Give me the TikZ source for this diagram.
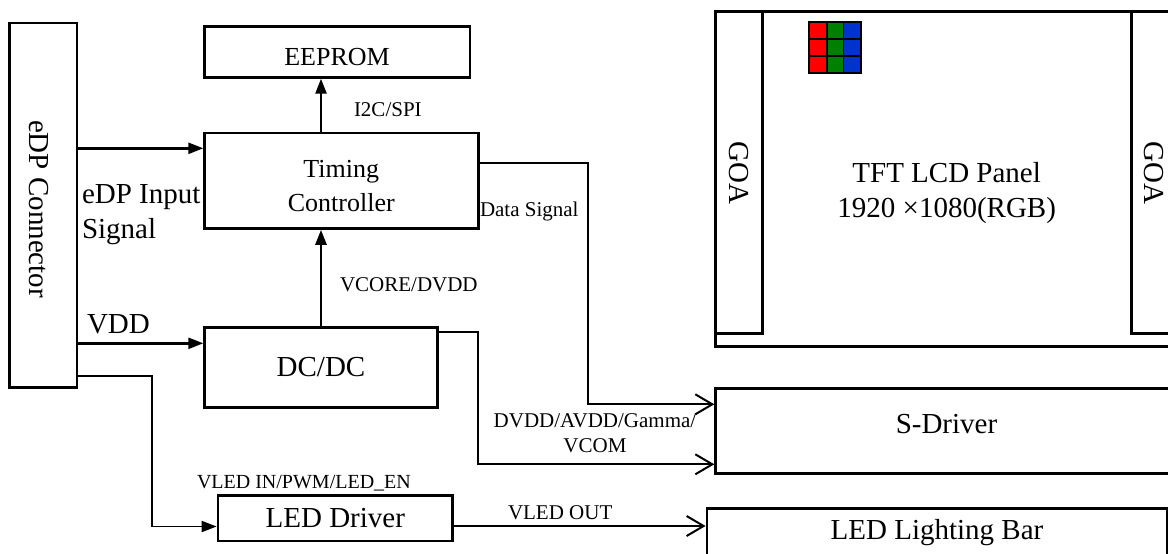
\documentclass[tikz,border=0pt]{standalone}
\usepackage{fontspec}
\setmainfont{Liberation Serif}
\usetikzlibrary{arrows.meta}
\definecolor{pxr}{RGB}{255,0,0}
\definecolor{pxg}{RGB}{0,128,0}
\definecolor{pxb}{RGB}{0,51,204}
\begin{document}
\begin{tikzpicture}[x=1pt,y=-1pt,
  box/.style={draw, line width=2.8pt, inner sep=0pt},
  big/.style={font=\fontsize{29}{35}\selectfont},
  mid/.style={font=\fontsize{26}{33.4}\selectfont},
  small/.style={font=\fontsize{21}{24.4}\selectfont},
  txt/.style={inner sep=0pt, outer sep=0pt},
  fat/.style={line width=2.5pt, -{Triangle[length=15pt,width=11pt]}},
  open/.style={line width=1.8pt, -{Straight Barb[length=17pt,width=20pt,line width=2pt]}},
]
\useasboundingbox (0,0) rectangle (1168,554);
\clip (0,0) rectangle (1168,554);

% ---- boxes ----
\node[box, minimum width=67.7pt, minimum height=364.7pt] (edp) at (43.2,205.3) {};
\node[txt, big, rotate=-90] (edpt) at (38.8,209) {eDP Connector};

\node[box, minimum width=265.3pt, minimum height=50.6pt] (eep) at (337.3,52) {};
\node[txt, mid, anchor=base] (eept) at (337,65) {EEPROM};

\node[box, minimum width=273.6pt, minimum height=95.3pt] (tc) at (341.5,180.7) {};
\node[txt, mid, align=center] (tct) at (341.3,186.1) {Timing\\Controller};

\node[box, big, minimum width=232.6pt, minimum height=80pt] (dc) at (321,367.3) {DC/DC};

\node[box, big, minimum width=234.5pt, minimum height=45.7pt] (led) at (335.3,518.2) {LED Driver};

\node[box, minimum width=462pt, minimum height=85pt] (sd) at (946.7,430.8) {};
\node[txt, big, anchor=base] (sdt) at (946.5,433.3) {S-Driver};

\node[box, big, minimum width=460pt, minimum height=49.4pt] (lb) at (937,533) {LED Lighting Bar};

\node[box, minimum width=462pt, minimum height=335pt] (panel) at (946.7,179.2) {};
\node[box, minimum width=46.6pt, minimum height=321.6pt] (goal) at (739,172.5) {};
\node[box, minimum width=46pt, minimum height=321.6pt] (goar) at (1154.7,172.5) {};
\node[txt, big, rotate=-90] (goalt) at (738.5,173) {GOA};
\node[txt, big, rotate=-90] (goart) at (1153.5,173) {GOA};
\node[txt, big, align=center] (panelt) at (946.7,193.3) {TFT LCD Panel\\1920 ×1080(RGB)};

% ---- RGB pixel ----
\fill[pxr] (809.3,21.7) rectangle (826.7,73.3);
\fill[pxg] (826.7,21.7) rectangle (843.3,73.3);
\fill[pxb] (843.3,21.7) rectangle (860.7,73.3);
\foreach \xx in {826.7,843.3} \draw[line width=1.6pt] (\xx,21.7) -- (\xx,73.3);
\foreach \yy in {39,55.7} \draw[line width=1.6pt] (809.3,\yy) -- (860.7,\yy);
\draw[line width=2pt] (809.3,21.7) rectangle (860.7,73.3);

% ---- connectors ----
\coordinate (c1) at (0,148.3);
\draw[fat] (edp.east |- c1) -- (tc.west |- c1);

\coordinate (c2) at (0,343.3);
\draw[fat] (edp.east |- c2) -- (dc.west |- c2);

\coordinate (c3) at (151.7,376);
\coordinate (c4) at (0,526.5);
\draw[fat, line width=1.9pt] (edp.east |- c3) -- (c3) -- (c3 |- c4) -- (led.west |- c4);

\draw[fat] (dc.north) -- (dc.north |- tc.south);
\draw[fat] (dc.north |- tc.north) -- (dc.north |- eep.south);

\coordinate (c5) at (587.7,163.3);
\coordinate (c6) at (0,404.3);
\draw[open] (tc.east |- c5) -- (c5) -- (c5 |- c6) -- (sd.west |- c6);

\coordinate (c7) at (478.3,331.7);
\coordinate (c8) at (0,464.3);
\draw[open] (dc.east |- c7) -- (c7) -- (c7 |- c8) -- (sd.west |- c8);

\coordinate (c9) at (0,526);
\draw[open, line width=2.2pt] (led.east |- c9) -- (lb.west |- c9);

% ---- labels ----
\node[txt, big, align=left, anchor=west] (lin) at (82,214.5) {eDP Input\\Signal};
\node[txt, big, anchor=base west] (lvdd) at (87,333.3) {VDD};
\node[txt, small, anchor=base west] (li2c) at (354,116) {I2C/SPI};
\node[txt, small, anchor=base west] (lvc) at (340,291) {VCORE/DVDD};
\node[txt, small, anchor=base west] (lds) at (480,216.7) {Data Signal};
\node[txt, small, align=center] (lpw) at (595,433.4) {DVDD/AVDD/Gamma/\\VCOM};
\node[txt, font=\fontsize{20}{24}\selectfont, anchor=base west] (lvin) at (197,488.3) {VLED IN/PWM/LED\_EN};
\node[txt, small, anchor=base west] (lvout) at (508,519) {VLED OUT};
\end{tikzpicture}
\end{document}
